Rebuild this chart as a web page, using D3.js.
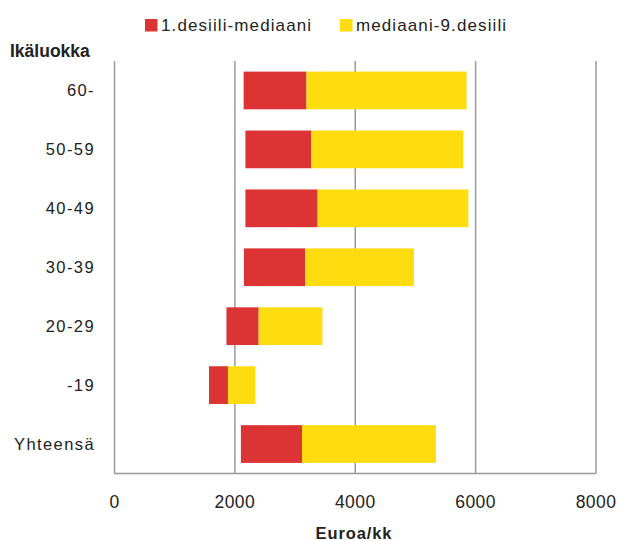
<!DOCTYPE html>
<html><head><meta charset="utf-8">
<script src="https://cdn.jsdelivr.net/npm/d3@7"></script>
<style>body{margin:0;background:#fff}svg{display:block}text{font-family:"Liberation Sans",Arial,sans-serif}</style>
</head><body>
<svg id="c" width="619" height="541"></svg>
<script>
const categories = ["60-","50-59","40-49","30-39","20-29","-19","Yhteensä"];
const decile1 = [2145,2175,2175,2150,1860,1570,2100];
const median  = [3190,3270,3375,3165,2395,1885,3115];
const decile9 = [5850,5795,5880,4975,3455,2340,5340];
const xTicks = [0,2000,4000,6000,8000];
const seriesNames = ["1.desiili-mediaani","mediaani-9.desiili"];
const colors = ["#DC3334","#FFDC0F"];

const svg = d3.select("#c");
const m = {l:114.5, r:596, t:61, b:473.5};
const x = d3.scaleLinear().domain([0,8000]).range([m.l,m.r]);
const y = d3.scaleBand().domain(categories).range([m.t,m.b]).paddingInner(0.36).paddingOuter(0.18);

// gridlines
svg.append("g").selectAll("line").data(xTicks).join("line")
  .attr("x1",d=>x(d)).attr("x2",d=>x(d)).attr("y1",m.t).attr("y2",m.b)
  .attr("stroke","#9a9a9a").attr("stroke-width",1.5);
// bottom axis line
svg.append("line").attr("x1",m.l).attr("x2",m.r).attr("y1",m.b).attr("y2",m.b)
  .attr("stroke","#9a9a9a").attr("stroke-width",1.5);

// bars
const rows = categories.map((c,i)=>({c, a:decile1[i], m:median[i], b:decile9[i]}));
const g = svg.append("g");
g.selectAll("rect.r").data(rows).join("rect").attr("class","r")
  .attr("x",d=>x(d.a)).attr("width",d=>x(d.m)-x(d.a))
  .attr("y",d=>y(d.c)).attr("height",y.bandwidth()).attr("fill",colors[0]);
g.selectAll("rect.yl").data(rows).join("rect").attr("class","yl")
  .attr("x",d=>x(d.m)).attr("width",d=>x(d.b)-x(d.m))
  .attr("y",d=>y(d.c)).attr("height",y.bandwidth()).attr("fill",colors[1]);

// x tick labels
svg.append("g").selectAll("text").data(xTicks).join("text")
  .attr("x",d=>x(d)).attr("y",508).attr("text-anchor","middle")
  .attr("font-size",17.5).attr("fill","#222").attr("letter-spacing",0.4).text(d=>d);
// y labels
svg.append("g").selectAll("text").data(categories).join("text")
  .attr("x",95).attr("y",d=>y(d)+y.bandwidth()/2+6).attr("text-anchor","end")
  .attr("font-size",16.5).attr("fill","#222").attr("letter-spacing",1.4).text(d=>d);

svg.append("text").attr("x",10).attr("y",56.5).attr("font-size",17.5).attr("font-weight","bold")
  .attr("fill","#222").text("Ikäluokka");
svg.append("text").attr("x",354).attr("y",539).attr("text-anchor","middle").attr("font-size",16.5)
  .attr("font-weight","bold").attr("fill","#222").attr("letter-spacing",0.9).text("Euroa/kk");

// legend
const legX = [145,340];
const lg = svg.append("g");
seriesNames.forEach((s,i)=>{
  lg.append("rect").attr("x",legX[i]).attr("y",19).attr("width",12.5).attr("height",12.5).attr("fill",colors[i]);
  lg.append("text").attr("x",legX[i]+16).attr("y",31).attr("font-size",17).attr("fill","#222")
    .attr("letter-spacing",1.1).text(s);
});
</script>
</body></html>
